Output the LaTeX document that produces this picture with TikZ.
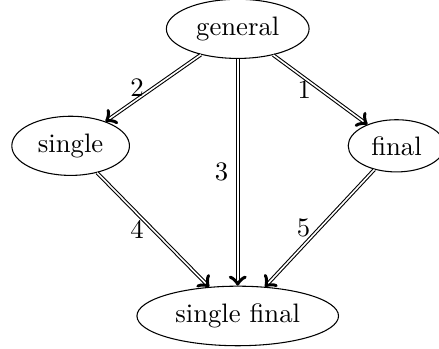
\documentclass[tikz,border=0pt]{standalone}
\usepackage{tikz}
\usetikzlibrary{arrows,shapes.geometric}
\begin{document}
\begin{tikzpicture}[line join=round,>=to,x=1.0cm,y=1.0cm,
  state/.style={draw,ellipse},
  flow/.style={->,double}]
\useasboundingbox (0,0) rectangle (5.78,-4.594);
\node[state] (general) at (3.13,-0.38) {general};
\node[state] (single) at (0.93,-1.92) {single};
\node[state] (final) at (5.22,-1.92) {final};
\node[state] (singlefinal) at (3.13,-4.16) {single final};
\draw [flow](general)-- node[left] {2} (single);
\draw [flow](general)-- node[left] {1} (final);
\draw [flow](general)-- node[left] {3} (singlefinal);
\draw [flow](single)-- node[left] {4} (singlefinal);
\draw [flow](final)-- node[left] {5} (singlefinal);
\end{tikzpicture}
\end{document}
